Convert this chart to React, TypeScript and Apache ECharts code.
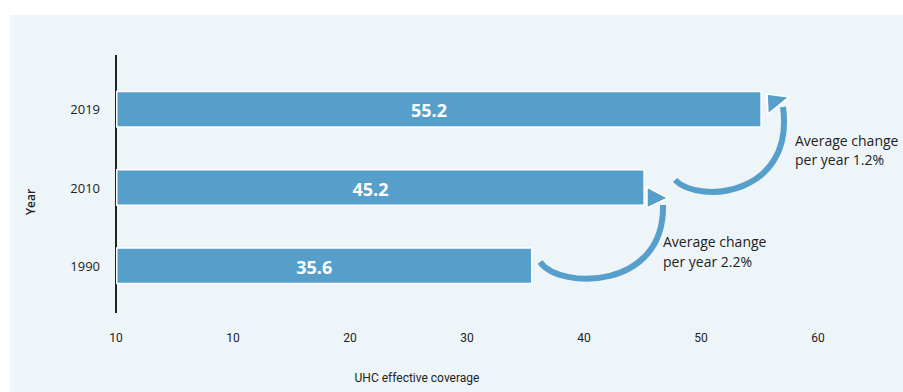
import React, { useEffect, useRef } from "react";
import * as echarts from "echarts";

const years = ["1990", "2010", "2019"];
const coverage = [35.6, 45.2, 55.2];
const xTickLabels = ["10", "10", "20", "30", "40", "50", "60"];
const notes = ["Average change\nper year 2.2%", "Average change\nper year 1.2%"];

const BLUE = "#579FCB";
const INK = "#222222";

export default function App() {
  const ref = useRef<HTMLDivElement>(null);
  useEffect(() => {
    if (!ref.current) return;
    const chart = echarts.init(ref.current, null, { renderer: "svg" });
    chart.setOption({
      animation: false,
      backgroundColor: "#ffffff",
      textStyle: { fontFamily: "Open Sans" },
      grid: { left: 116, right: 85, top: 70, bottom: 87 },
      xAxis: {
        type: "value",
        min: 0,
        max: 60,
        interval: 10,
        splitLine: { show: false },
        axisLine: { show: false },
        axisTick: { show: false },
        axisLabel: {
          margin: 27,
          color: INK,
          fontSize: 12,
          fontFamily: "Roboto",
          formatter: (v: number) => xTickLabels[Math.round(v / 10)] ?? String(v),
        },
        name: "UHC effective coverage",
        nameLocation: "middle",
        nameGap: 67,
        nameTextStyle: { color: INK, fontSize: 12, fontFamily: "Roboto", padding: [0, 100, 0, 0] },
      },
      yAxis: {
        type: "category",
        data: years,
        axisLine: { show: false },
        axisTick: { show: false },
        axisLabel: { margin: 16, color: INK, fontSize: 13 },
      },
      series: [
        {
          type: "bar",
          data: coverage,
          barWidth: 37,
          itemStyle: { color: BLUE, borderColor: "#ffffff", borderWidth: 1.5 },
          label: {
            show: true,
            position: "inside",
            offset: [-10, 1],
            color: "#ffffff",
            fontSize: 18,
            fontWeight: "bold",
            formatter: (p: any) => p.value.toFixed(1),
          },
          z: 3,
        },
      ],
      graphic: [
        {
          type: "rect",
          silent: true,
          z: -100,
          shape: { x: 10, y: 15, width: 893, height: 377 },
          style: { fill: "#EEF5F8" },
        },
        {
          type: "line",
          silent: true,
          z: 1,
          shape: { x1: 116, y1: 55, x2: 116, y2: 313 },
          style: { stroke: INK, lineWidth: 2 },
        },
        {
          type: "text",
          x: 30,
          y: 202,
          rotation: Math.PI / 2,
          style: {
            text: "Year",
            fill: INK,
            fontSize: 12,
            fontFamily: "Open Sans",
            fontWeight: 600,
            align: "center",
            verticalAlign: "middle",
          },
        },
        {
          type: "bezierCurve",
          z: 5,
          shape: { x1: 540, y1: 262, cpx1: 560, cpy1: 290, cpx2: 665, cpy2: 290, x2: 663, y2: 205 },
          style: { stroke: BLUE, lineWidth: 6, fill: null },
        },
        {
          type: "polygon",
          z: 6,
          shape: { points: [[647, 187], [668, 198], [647, 208]] },
          style: { fill: BLUE, stroke: "#ffffff", lineWidth: 1.5 },
        },
        {
          type: "bezierCurve",
          z: 5,
          shape: { x1: 675, y1: 180, cpx1: 700, cpy1: 205, cpx2: 795, cpy2: 195, x2: 783, y2: 107 },
          style: { stroke: BLUE, lineWidth: 6, fill: null },
        },
        {
          type: "polygon",
          z: 6,
          shape: { points: [[767, 94], [789, 97], [768, 114]] },
          style: { fill: BLUE, stroke: "#ffffff", lineWidth: 1.5 },
        },
        {
          type: "text",
          x: 663,
          y: 231,
          style: { text: notes[0], fill: INK, fontSize: 14, lineHeight: 20, fontFamily: "Open Sans" },
        },
        {
          type: "text",
          x: 795,
          y: 131,
          style: { text: notes[1], fill: INK, fontSize: 14, lineHeight: 19, fontFamily: "Open Sans" },
        },
      ],
    });
    return () => chart.dispose();
  }, []);
  return (
    <div style={{ position: "fixed", left: 0, top: 0, width: 903, height: 392, background: "#fff" }}>
      <div ref={ref} style={{ width: 903, height: 392 }} />
    </div>
  );
}
